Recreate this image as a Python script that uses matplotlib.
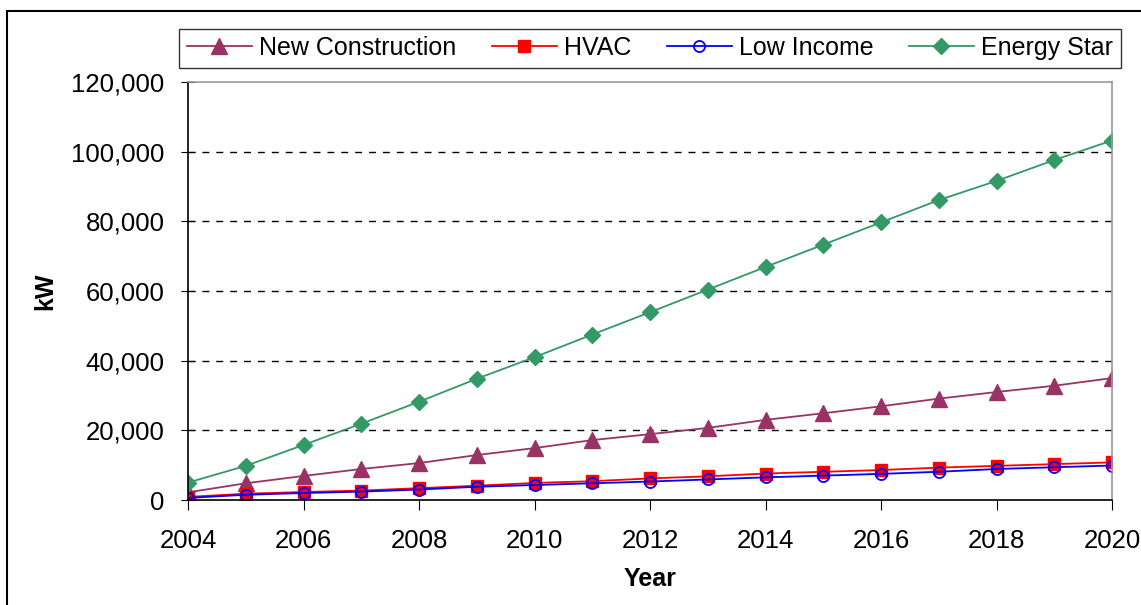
import matplotlib.pyplot as plt
from matplotlib.patches import Rectangle
from matplotlib.ticker import FuncFormatter
import numpy as np

plt.rcParams['font.family'] = ['Liberation Sans', 'DejaVu Sans']

years = list(range(2004, 2021))
new_construction = [2200, 4800, 6900, 8900, 10600, 12900, 14900, 17200, 18900,
                    20700, 23000, 24900, 26900, 29100, 31000, 32800, 35000]
hvac = [900, 1800, 2300, 2700, 3400, 4100, 4900, 5400, 6200,
        6800, 7600, 8100, 8600, 9300, 9800, 10300, 10800]
low_income = [600, 1500, 2000, 2400, 3000, 3800, 4300, 4800, 5300,
              5900, 6500, 7000, 7500, 8100, 8900, 9400, 9900]
energy_star = [5000, 9800, 15800, 21900, 28200, 34800, 41000, 47500, 53900,
               60400, 66900, 73300, 79700, 86100, 91600, 97600, 103200]

fig = plt.figure(figsize=(11.41, 6.05), dpi=100)
ax = fig.add_axes([188/1141, 105/605, 924/1141, 418/605])

# outer chart border
fig.patches.append(Rectangle((7/1141, -0.05), 1.2, 594/605 + 0.05, transform=fig.transFigure,
                             fill=False, edgecolor='black', linewidth=1.5))

ax.plot(years, new_construction, color='#993366', marker='^', markersize=11, lw=1.3,
        label='New Construction')
ax.plot(years, hvac, color='#FF0000', marker='s', markersize=9, lw=1.3, label='HVAC')
ax.plot(years, low_income, color='#0000FF', marker='o', markersize=8, lw=1.3,
        markerfacecolor='none', markeredgewidth=1.3, label='Low Income')
ax.plot(years, energy_star, color='#339966', marker='D', markersize=8, lw=1.3,
        label='Energy Star')

ax.set_xlim(2004, 2020)
ax.set_ylim(0, 120000)
ax.set_xticks(range(2004, 2021, 2))
ax.set_yticks(range(0, 120001, 20000))
ax.yaxis.set_major_formatter(FuncFormatter(lambda v, p: f'{int(v):,}'))
ax.tick_params(axis='y', direction='inout', length=10, labelsize=18.5, pad=12)
ax.tick_params(axis='x', direction='out', length=7, labelsize=18.5, pad=14)

for y in range(20000, 120000, 20000):
    ax.axhline(y, color='black', lw=1, ls=(0, (5, 5)), zorder=0)

ax.spines['left'].set_color('black')
ax.spines['bottom'].set_color('black')
ax.spines['top'].set_color('#999999')
ax.spines['right'].set_color('#999999')
for s in ax.spines.values():
    s.set_linewidth(1.2)

ax.set_ylabel('kW', fontsize=18, fontweight='bold', labelpad=10)
ax.set_xlabel('Year', fontsize=18, fontweight='bold', labelpad=10)

leg = ax.legend(loc='center', bbox_to_anchor=(650/1141, 1 - 48/605), bbox_transform=fig.transFigure,
                ncol=4, fontsize=18, frameon=True, fancybox=False, edgecolor='black',
                handlelength=2.6, handletextpad=0.3, columnspacing=1.4, borderpad=0.3,
                borderaxespad=0)
leg.get_frame().set_linewidth(1)

fig.savefig('out.png', dpi=100)
